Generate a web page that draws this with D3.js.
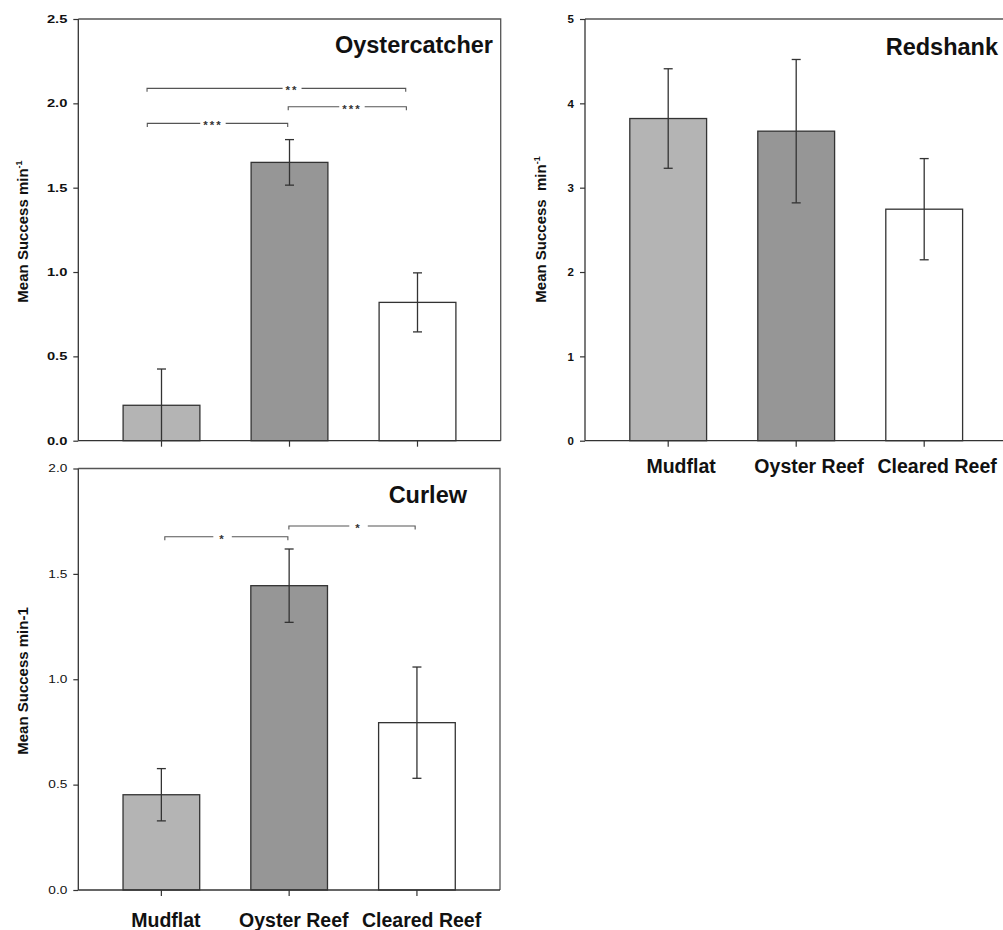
<!DOCTYPE html>
<html>
<head>
<meta charset="utf-8">
<script src="https://cdn.jsdelivr.net/npm/d3@7"></script>
<style>
  html, body { margin: 0; padding: 0; background: #fff; }
  svg { display: block; font-family: "Liberation Sans", Arial, Helvetica, sans-serif; }
</style>
</head>
<body>
<svg id="chart" width="1003" height="930"></svg>
<script>
// ---------------- DATA ----------------
const categories = ["Mudflat", "Oyster Reef", "Cleared Reef"];

const oystercatcherMean = [0.21, 1.65, 0.82];
const oystercatcherErr  = [0.215, 0.135, 0.175];
const oystercatcherTicks = [0, 0.5, 1.0, 1.5, 2.0, 2.5];

const redshankMean = [3.82, 3.67, 2.745];
const redshankErr  = [0.59, 0.85, 0.60];
const redshankTicks = [0, 1, 2, 3, 4, 5];

const curlewMean = [0.452, 1.444, 0.794];
const curlewErr  = [0.124, 0.174, 0.264];
const curlewTicks = [0, 0.5, 1.0, 1.5, 2.0];

// significance brackets: ends and label position in category-index units, height in data units
const oystercatcherSig = [
  { from: -0.113, to: 1.908, y: 2.089, at: 1.02,  label: "**"  },
  { from: 0.99,   to: 1.913, y: 1.980, at: 1.488, label: "***" },
  { from: -0.111, to: 0.986, y: 1.881, at: 0.402, label: "***" }
];
const curlewSig = [
  { from: 0.027, to: 0.99,  y: 1.676, at: 0.479, label: "*" },
  { from: 0.998, to: 1.986, y: 1.727, at: 1.543, label: "*" }
];
const redshankSig = [];

const barFill = ["#b4b4b4", "#969696", "#ffffff"];

// ---------------- DRAW ----------------
const svg = d3.select("#chart");
svg.append("rect").attr("width", 1003).attr("height", 930).attr("fill", "#fff");

function panel(cfg) {
  const g = svg.append("g");
  const x = d3.scaleBand().domain(categories).range([cfg.left, cfg.right])
    .paddingInner(0.4).paddingOuter(0.35);
  const y = d3.scaleLinear().domain([0, cfg.yMax]).range([cfg.bottom, cfg.top]);
  const c0 = x(categories[0]) + x.bandwidth() / 2;
  const idx = d3.scaleLinear().domain([0, 1]).range([c0, c0 + x.step()]);

  // frame (top & right)
  g.append("path")
    .attr("d", `M${cfg.left},${cfg.top}H${cfg.right}V${cfg.bottom}`)
    .attr("fill", "none").attr("stroke", "#555").attr("stroke-width", 1.3);

  // bars
  g.selectAll("rect.bar").data(categories).join("rect")
    .attr("class", "bar")
    .attr("x", d => x(d))
    .attr("width", x.bandwidth())
    .attr("y", (d, i) => y(cfg.mean[i]))
    .attr("height", (d, i) => y(0) - y(cfg.mean[i]))
    .attr("fill", (d, i) => barFill[i])
    .attr("stroke", "#333").attr("stroke-width", 1.3);

  // error bars
  const cap = 4.5;
  categories.forEach((d, i) => {
    const cx = x(d) + x.bandwidth() / 2;
    const hi = y(cfg.mean[i] + cfg.err[i]);
    const lo = y(Math.max(0, cfg.mean[i] - cfg.err[i]));
    const eg = g.append("g").attr("stroke", "#333").attr("stroke-width", 1.3);
    eg.append("line").attr("x1", cx).attr("x2", cx).attr("y1", hi).attr("y2", lo);
    eg.append("line").attr("x1", cx - cap).attr("x2", cx + cap).attr("y1", hi).attr("y2", hi);
    if (cfg.mean[i] - cfg.err[i] > 0)
      eg.append("line").attr("x1", cx - cap).attr("x2", cx + cap).attr("y1", lo).attr("y2", lo);
  });

  // y axis
  const ya = g.append("g").attr("transform", `translate(${cfg.left},0)`)
    .call(d3.axisLeft(y).tickValues(cfg.ticks).tickFormat(cfg.fmt).tickSize(5).tickSizeOuter(0).tickPadding(6));
  ya.select(".domain").remove();
  ya.selectAll(".tick line").attr("stroke", "#333").attr("stroke-width", 1.2);
  ya.selectAll(".tick text")
    .attr("fill", "#111")
    .style("font-family", '"Liberation Sans", Arial, sans-serif')
    .style("font-size", cfg.tickFont + "px")
    .style("font-weight", cfg.tickBold ? "bold" : "normal")
    .attr("x", -11 / cfg.tickStretch)
    .attr("transform", `scale(${cfg.tickStretch},1)`);
  g.append("line").attr("x1", cfg.left).attr("x2", cfg.left)
    .attr("y1", cfg.top).attr("y2", cfg.bottom)
    .attr("stroke", "#333").attr("stroke-width", 1.3);

  // x axis
  const xa = g.append("g").attr("transform", `translate(0,${cfg.bottom})`)
    .call(d3.axisBottom(x).tickSize(6).tickSizeOuter(0));
  xa.select(".domain").remove();
  xa.selectAll(".tick line").attr("stroke", "#333").attr("stroke-width", 1.2);
  if (cfg.catLabels) {
    xa.selectAll(".tick text")
      .attr("fill", "#111")
      .style("font-family", '"Liberation Sans", Arial, sans-serif')
      .style("font-size", "19.5px").style("font-weight", "bold")
      .attr("y", cfg.catY).attr("dy", 0).attr("dx", cfg.catDx);
  } else {
    xa.selectAll(".tick text").remove();
  }
  g.append("line").attr("x1", cfg.left).attr("x2", cfg.right)
    .attr("y1", cfg.bottom).attr("y2", cfg.bottom)
    .attr("stroke", "#333").attr("stroke-width", 1.3);

  // significance brackets
  cfg.sig.forEach(s => {
    const yy = y(s.y);
    const x1 = idx(s.from), x2 = idx(s.to), xt = idx(s.at);
    const t = g.append("text")
      .attr("x", xt).attr("y", yy + 6)
      .attr("text-anchor", "middle")
      .style("font-size", "11.5px").style("font-weight", "bold")
      .style("letter-spacing", "2px")
      .attr("fill", "#333")
      .text(s.label);
    const w = t.node().getComputedTextLength();
    const gap = w / 2 + cfg.sigPad;
    const drop = 3.5;
    g.append("path")
      .attr("d", `M${x1},${yy + drop}V${yy}H${xt - gap}M${xt + gap},${yy}H${x2}V${yy + drop}`)
      .attr("fill", "none").attr("stroke", "#555").attr("stroke-width", 1.1);
  });

  // title
  g.append("text")
    .attr("x", cfg.titleX).attr("y", cfg.titleY)
    .attr("text-anchor", "end")
    .style("font-size", "23.5px").style("font-weight", "bold")
    .attr("fill", "#111")
    .text(cfg.title);

  // y label
  const yl = g.append("text")
    .attr("transform", `translate(${cfg.ylX},${cfg.ylY}) rotate(-90)`)
    .attr("text-anchor", "middle")
    .style("font-size", "15px").style("font-weight", "bold")
    .attr("fill", "#111");
  yl.append("tspan").text(cfg.ylMain);
  if (cfg.ylSup) {
    yl.append("tspan").attr("dy", -6).style("font-size", "9px").text(cfg.ylSup);
  }
}

panel({
  left: 78.3, right: 500.7, top: 19, bottom: 440.7, yMax: 2.5,
  ticks: oystercatcherTicks, fmt: d3.format(".1f"),
  tickFont: 10.5, tickBold: true, tickStretch: 1.4,
  mean: oystercatcherMean, err: oystercatcherErr, sig: oystercatcherSig, sigPad: 3,
  catLabels: false,
  title: "Oystercatcher", titleX: 493, titleY: 52.7,
  ylMain: "Mean Success min", ylSup: "-1", ylX: 27.5, ylY: 231.5
});

panel({
  left: 585, right: 1007.4, top: 19, bottom: 440.7, yMax: 5,
  ticks: redshankTicks, fmt: d3.format("d"),
  tickFont: 11.5, tickBold: true, tickStretch: 1.0,
  mean: redshankMean, err: redshankErr, sig: redshankSig, sigPad: 3,
  catLabels: true, catY: 32.6, catDx: 12.9,
  title: "Redshank", titleX: 998, titleY: 55,
  ylMain: "Mean Success\u00a0 min", ylSup: "-1", ylX: 546, ylY: 229.5
});

panel({
  left: 78.3, right: 500, top: 468.5, bottom: 890, yMax: 2,
  ticks: curlewTicks, fmt: d3.format(".1f"),
  tickFont: 10.5, tickBold: false, tickStretch: 1.3,
  mean: curlewMean, err: curlewErr, sig: curlewSig, sigPad: 6,
  catLabels: true, catY: 37, catDx: 4.6,
  title: "Curlew", titleX: 467, titleY: 503.3,
  ylMain: "Mean Success min-1", ylSup: null, ylX: 27.5, ylY: 681
});
</script>
</body>
</html>
